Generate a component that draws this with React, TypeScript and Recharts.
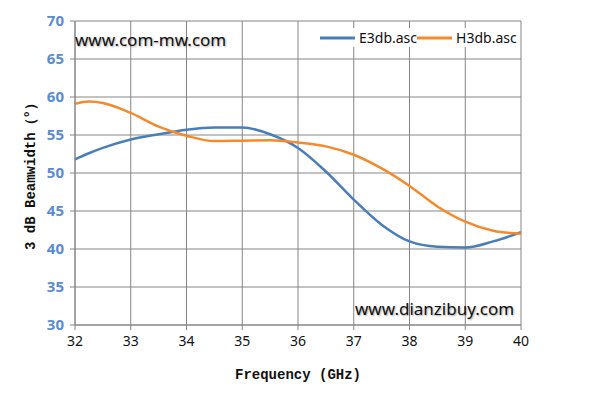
import { CartesianGrid, Line, LineChart, XAxis, YAxis } from "recharts";

// frequency in GHz, beamwidth in degrees
const freq = [32, 32.25, 32.5, 33, 33.5, 34, 34.5, 35, 35.5, 36, 36.5, 37, 37.5, 38, 38.5, 39, 39.5, 40];
const e3db = [51.8, 52.6, 53.3, 54.4, 55.1, 55.7, 56.0, 56.0, 55.1, 53.3, 50.2, 46.5, 43.2, 41.0, 40.3, 40.2, 41.0, 42.2];
const h3db = [59.1, 59.4, 59.2, 57.9, 56.1, 54.9, 54.2, 54.25, 54.3, 54.0, 53.5, 52.4, 50.6, 48.3, 45.6, 43.6, 42.4, 42.0];
const xTicks = [32, 33, 34, 35, 36, 37, 38, 39, 40];
const yTicks = [30, 35, 40, 45, 50, 55, 60, 65, 70];

const BLUE = "#4a7ebb";
const ORANGE = "#f58a2c";
const GRID = "#868686";

const data = freq.map((f, i) => ({ freq: f, E3db: e3db[i], H3db: h3db[i] }));

const series = [
  { key: "E3db", name: "E3db.asc", color: BLUE },
  { key: "H3db", name: "H3db.asc", color: ORANGE },
];

function LegendBox() {
  return (
    <div
      style={{
        position: "absolute",
        left: 320,
        top: 28,
        display: "flex",
        alignItems: "center",
        fontFamily: "'Noto Sans', sans-serif",
        fontSize: 14,
        color: "#111",
        background: "#fff",
      }}
    >
      {series.map((s) => (
        <div key={s.key} style={{ display: "flex", alignItems: "center" }}>
          <svg width={35} height={10}>
            <line x1={0} y1={5} x2={35} y2={5} stroke={s.color} strokeWidth={3} />
          </svg>
          <span style={{ marginLeft: 4 }}>{s.name}</span>
        </div>
      ))}
    </div>
  );
}

const mark: React.CSSProperties = {
  position: "absolute",
  fontFamily: "'Noto Sans', sans-serif",
  fontSize: 17,
  color: "#111",
  textShadow: "1px 1px 2px rgba(0,0,0,0.35)",
  whiteSpace: "nowrap",
};

export default function App() {
  return (
    <div style={{ position: "absolute", left: 0, top: 0, width: 594, height: 407, background: "#fff" }}>
      <LineChart width={594} height={407} data={data} margin={{ top: 21, right: 73, left: 0, bottom: 52 }}>
        <CartesianGrid stroke={GRID} strokeWidth={1} />
        <XAxis
          dataKey="freq"
          type="number"
          domain={[32, 40]}
          ticks={xTicks}
          height={30}
          stroke={GRID}
          tickSize={5}
          tickMargin={6}
          tick={{ fontSize: 14, fill: "#111", fontFamily: "'Noto Sans', sans-serif" }}
          label={{
            value: "Frequency (GHz)",
            position: "insideBottom",
            offset: -24,
            style: { fontSize: 14, fontWeight: "bold", fill: "#111", fontFamily: "'Liberation Mono', monospace" },
          }}
        />
        <YAxis
          type="number"
          domain={[30, 70]}
          ticks={yTicks}
          width={75}
          stroke={GRID}
          tickSize={5}
          tickMargin={6}
          tick={{ fontSize: 15, fill: "#5b8cd0", fontWeight: "bold", fontFamily: "'Noto Sans', sans-serif" }}
          label={{
            value: "3 dB Beamwidth（°）",
            angle: -90,
            position: "insideLeft",
            offset: 0,
            dx: 30,
            style: { textAnchor: "middle", fontSize: 14, fontWeight: "bold", fill: "#111", fontFamily: "'Liberation Mono', monospace" },
          }}
        />
        {series.map((s) => (
          <Line
            key={s.key}
            type="monotone"
            dataKey={s.key}
            name={s.name}
            stroke={s.color}
            strokeWidth={2.5}
            dot={false}
            isAnimationActive={false}
          />
        ))}
      </LineChart>
      <LegendBox />
      <div style={{ ...mark, left: 75, top: 28 }}>www.com-mw.com</div>
      <div style={{ ...mark, left: 355, top: 297 }}>www.dianzibuy.com</div>
    </div>
  );
}
